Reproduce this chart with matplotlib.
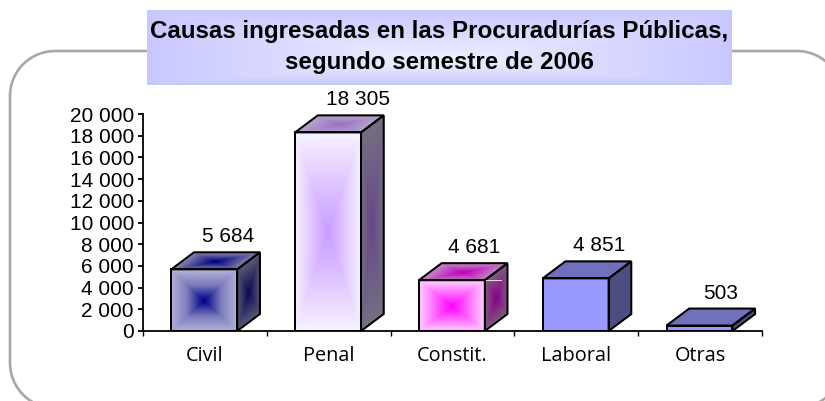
import matplotlib
matplotlib.use('Agg')
import matplotlib.pyplot as plt
import numpy as np
from matplotlib.colors import LinearSegmentedColormap
from matplotlib.patches import Polygon

categories = ['Civil', 'Penal', 'Constit.', 'Laboral', 'Otras']
values = [5684, 18305, 4681, 4851, 503]
value_labels = ['5 684', '18 305', '4 681', '4 851', '503']
y_ticks = list(range(0, 20001, 2000))
y_tick_labels = ['0', '2 000', '4 000', '6 000', '8 000', '10 000', '12 000',
                 '14 000', '16 000', '18 000', '20 000']

# colours from the centre of each face to its edge: front, top and side
front_colors = [('#00008a', '#7c7cba', '#b4b4da'), ('#c99cff', '#f7f2ff'), ('#ff00ff', '#ffd4ff'),
                ('#9999ff', '#9999ff'), ('#9999ff', '#9999ff')]
top_colors = [('#000080', '#8a8ab0'), ('#9a70c4', '#b8a8cc'), ('#c000c0', '#c48cc4'),
              ('#7070bb', '#7070bb'), ('#7070bb', '#7070bb')]
side_colors = [('#0a0a55', '#5c5c78'), ('#66488c', '#757080'), ('#8c008c', '#806080'),
               ('#4d4d80', '#4d4d80'), ('#4d4d80', '#4d4d80')]

W, H = 825, 401


def fig_x(px):
    return px / W


def fig_y(px):
    return 1 - px / H


def draw_face(ax, corners, colors):
    # corners: lower left, lower right, upper right, upper left
    c = np.array(corners)
    u, v = np.meshgrid(np.linspace(0, 1, 81), np.linspace(0, 1, 81))
    X = (1-u)*(1-v)*c[0, 0] + u*(1-v)*c[1, 0] + u*v*c[2, 0] + (1-u)*v*c[3, 0]
    Y = (1-u)*(1-v)*c[0, 1] + u*(1-v)*c[1, 1] + u*v*c[2, 1] + (1-u)*v*c[3, 1]
    dist = np.maximum(np.abs(2*u-1), np.abs(2*v-1))
    cmap = LinearSegmentedColormap.from_list('face', list(colors))
    ax.pcolormesh(X, Y, dist, cmap=cmap, vmin=0, vmax=1, shading='gouraud', zorder=3)
    ax.add_patch(Polygon(c, closed=True, fill=False, ec='black', lw=1.45, zorder=4, joinstyle='miter'))


def rounded_frame(left, top, right, bottom, r):
    # closed outline going clockwise from the top left corner
    t = np.linspace(0, np.pi/2, 40)
    xs = np.concatenate([left + r - r*np.cos(t), right - r + r*np.sin(t),
                         right - r + r*np.cos(t), left + r - r*np.sin(t), [left]])
    ys = np.concatenate([top + r - r*np.sin(t), top + r - r*np.cos(t),
                         bottom - r + r*np.sin(t), bottom - r + r*np.cos(t), [top + r]])
    return xs, ys


fig = plt.figure(figsize=(W/100, H/100), dpi=100, facecolor='white')
plt.rcParams['font.family'] = ['Liberation Sans']

# rounded frame behind the chart
bg = fig.add_axes([0, 0, 1, 1])
frame_x, frame_y = rounded_frame(10, 51, 842, 408, 45)
bg.plot(frame_x, frame_y, color='#a8a8a8', lw=1.9, zorder=1, solid_capstyle='round', solid_joinstyle='round')

# title box gradient, lightest a little under the middle
tx, ty = np.meshgrid(np.arange(147, 733), np.arange(10, 86))
title_dist = np.maximum(np.abs(tx - 440) / 293,
                        np.where(ty < 62, (62 - ty) / 52, (ty - 62) / 23))
title_cmap = LinearSegmentedColormap.from_list('title', ['#f0f0ff', '#dcdcff', '#c8c8ff'])
bg.imshow(title_dist, extent=(147, 732, 85, 10), cmap=title_cmap, aspect='auto', zorder=2)
bg.set_xlim(0, W)
bg.set_ylim(H, 0)
bg.axis('off')
bg.text(439.5, 31.5, 'Causas ingresadas en las Procuradurías Públicas,', ha='center', va='center',
        fontsize=17.4, fontweight='bold', color='black', zorder=3)
bg.text(439.5, 63, 'segundo semestre de 2006', ha='center', va='center',
        fontsize=17.4, fontweight='bold', color='black', zorder=3)

ax = fig.add_axes([fig_x(143), fig_y(331), (762-143)/W, (331-114)/H])
ax.patch.set_alpha(0)
ax.set_xlim(0, 5)
ax.set_ylim(0, 20000)
for name in ['top', 'right']:
    ax.spines[name].set_visible(False)
for name in ['left', 'bottom']:
    ax.spines[name].set_linewidth(1.3)
ax.set_yticks(y_ticks)
ax.set_yticklabels(y_tick_labels, fontsize=15)
ax.set_xticks(np.arange(6))
ax.set_xticklabels([])
ax.set_xticks(np.arange(5) + 0.5, minor=True)
ax.set_xticklabels(categories, minor=True, fontsize=14.3, family='Open Sans')
ax.tick_params(axis='y', length=3.5, width=1.3, pad=3)
ax.tick_params(axis='x', which='major', length=3.5, width=1)
ax.tick_params(axis='x', which='minor', length=0, pad=11)

bar_w = 66 / 124
depth_x = 22.7 / 124
depth_y = 17 / 217 * 20000
label_dx = [23, 29, 22, 23, 21]

for i, val in enumerate(values):
    x0 = i + 0.5 - bar_w/2 - 0.005
    x1 = x0 + bar_w
    draw_face(ax, [(x0, 0), (x1, 0), (x1, val), (x0, val)], front_colors[i])
    draw_face(ax, [(x0, val), (x1, val), (x1+depth_x, val+depth_y), (x0+depth_x, val+depth_y)], top_colors[i])
    draw_face(ax, [(x1, 0), (x1+depth_x, depth_y), (x1+depth_x, val+depth_y), (x1, val)], side_colors[i])
    ax.annotate(value_labels[i], (i + 0.5, val), xytext=(label_dx[i], 27), textcoords='offset pixels',
                ha='center', va='baseline', fontsize=15, annotation_clip=False)

# thin light stroke on the side of the Constit. bar
x1 = 2 + 0.5 - bar_w/2 - 0.005 + bar_w
ax.plot([x1 + 0.01, x1 + depth_x*0.7], [values[2], values[2]], color='#e8d8e8', lw=0.7, zorder=5)

plt.savefig('out.png', dpi=100)
